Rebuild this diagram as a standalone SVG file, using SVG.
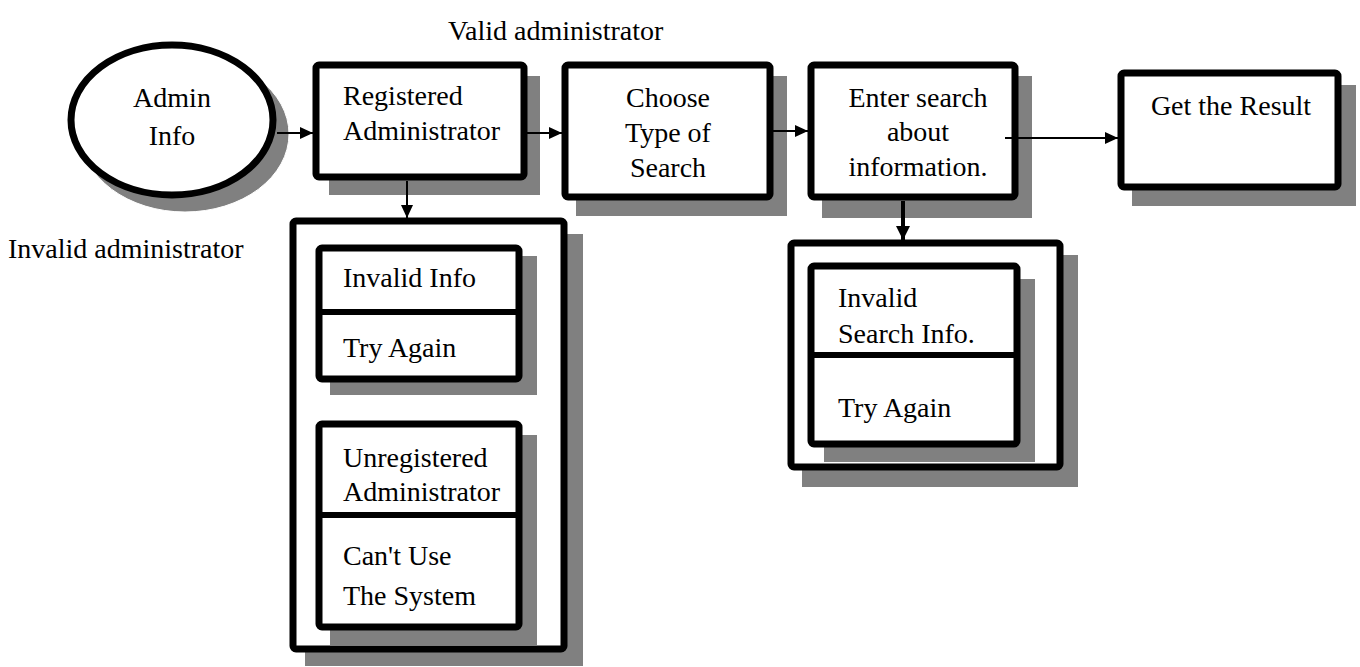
<svg xmlns="http://www.w3.org/2000/svg" width="1360" height="667" viewBox="0 0 1360 667">
<style>
.box{fill:#fff;stroke:#000;stroke-width:7;stroke-linejoin:round}
.sh{fill:#808080}
.t{font-family:"Liberation Serif","Times New Roman",serif;font-size:28px;fill:#000}
.c{text-anchor:middle}
.ln{stroke:#000;stroke-width:2;fill:none}
.div{stroke:#000;stroke-width:6}
</style>
<defs>
<marker id="ah" markerWidth="13" markerHeight="12" refX="13" refY="6" orient="auto" markerUnits="userSpaceOnUse" viewBox="0 0 13 12">
<path d="M0,0 L13,6 L0,12 z" fill="#000"/>
</marker>
<marker id="ahb" markerWidth="14" markerHeight="14" refX="14" refY="7" orient="auto" markerUnits="userSpaceOnUse" viewBox="0 0 14 14">
<path d="M0,0 L14,7 L0,14 z" fill="#000"/>
</marker>
</defs>
<text class="t" x="448" y="40">Valid administrator</text>
<text class="t" x="8" y="258">Invalid administrator</text>
<g id="admin-info">
<ellipse cx="185" cy="134" rx="104" ry="78" class="sh" stroke="#fff" stroke-width="1"/>
<ellipse cx="172" cy="120" rx="101" ry="75" class="box" stroke-width="8"/>
<text class="t c" x="172" y="107">Admin</text>
<text class="t c" x="172" y="145">Info</text>
</g>
<g id="registered">
<rect class="sh" x="329" y="76" width="211" height="119"/>
<rect class="box" x="316" y="65" width="208" height="112" rx="3"/>
<text class="t" x="343" y="105">Registered</text>
<text class="t" x="343" y="140">Administrator</text>
</g>
<g id="choose">
<rect class="sh" x="576" y="76" width="211" height="140"/>
<rect class="box" x="565" y="65" width="205" height="132" rx="3"/>
<text class="t c" x="668" y="107">Choose</text>
<text class="t c" x="668" y="142">Type of</text>
<text class="t c" x="668" y="177">Search</text>
</g>
<g id="enter">
<rect class="sh" x="822" y="76" width="210" height="142"/>
<rect class="box" x="811" y="65" width="204" height="132" rx="3"/>
<text class="t c" x="918" y="107">Enter search</text>
<text class="t c" x="918" y="141">about</text>
<text class="t c" x="918" y="176">information.</text>
</g>
<g id="result">
<rect class="sh" x="1132" y="85" width="224" height="121"/>
<rect class="box" x="1121" y="73" width="217" height="114" rx="3"/>
<text class="t c" x="1231" y="115">Get the Result</text>
</g>
<g id="invalid-admin">
<rect class="sh" x="305" y="234" width="278" height="432"/>
<rect class="box" x="293" y="221" width="271" height="428" rx="3"/>
<g id="invalid-info">
<rect class="sh" x="330" y="256" width="207" height="139"/>
<rect class="box" x="319" y="248" width="200" height="131" rx="3"/>
<line class="div" x1="319" y1="312" x2="519" y2="312"/>
<text class="t" x="343" y="287">Invalid Info</text>
<text class="t" x="343" y="357">Try Again</text>
</g>
<g id="unregistered">
<rect class="sh" x="330" y="435" width="207" height="210"/>
<rect class="box" x="319" y="424" width="200" height="203" rx="3"/>
<line class="div" x1="319" y1="515" x2="519" y2="515"/>
<text class="t" x="343" y="467">Unregistered</text>
<text class="t" x="343" y="501">Administrator</text>
<text class="t" x="343" y="565">Can't Use</text>
<text class="t" x="343" y="605">The System</text>
</g>
</g>
<g id="invalid-search">
<rect class="sh" x="802" y="255" width="276" height="232"/>
<rect class="box" x="791" y="243" width="269" height="224" rx="3"/>
<g id="invalid-search-info">
<rect class="sh" x="824" y="279" width="211" height="183"/>
<rect class="box" x="811" y="266" width="206" height="178" rx="3"/>
<line class="div" x1="811" y1="355" x2="1017" y2="355"/>
<text class="t" x="838" y="307">Invalid</text>
<text class="t" x="838" y="343">Search Info.</text>
<text class="t" x="838" y="417">Try Again</text>
</g>
</g>
<g id="connectors">
<line class="ln" x1="277" y1="133" x2="313" y2="133" marker-end="url(#ah)"/>
<line class="ln" x1="527" y1="133" x2="562" y2="133" marker-end="url(#ah)"/>
<line class="ln" x1="773" y1="131" x2="808" y2="131" marker-end="url(#ah)"/>
<line class="ln" x1="1005" y1="138" x2="1118" y2="138" marker-end="url(#ah)"/>
<line class="ln" x1="407" y1="181" x2="407" y2="218" marker-end="url(#ah)"/>
<line x1="903" y1="201" x2="903" y2="240" stroke="#000" stroke-width="4" marker-end="url(#ahb)"/>
</g>
</svg>
